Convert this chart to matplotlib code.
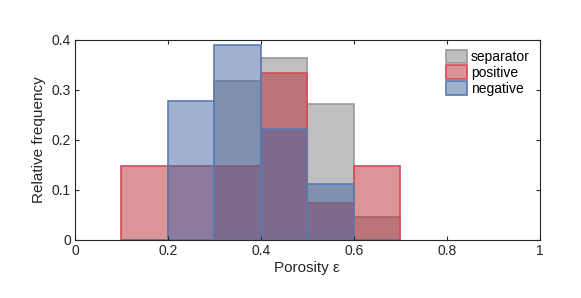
import numpy as np
import matplotlib.pyplot as plt

plt.rcParams['font.family'] = ['Liberation Sans', 'DejaVu Sans']

bin_edges = [0.1, 0.2, 0.3, 0.4, 0.5, 0.6]
separator = [0.0, 0.0, 7 / 22, 8 / 22, 6 / 22, 1 / 22]
positive = [4 / 27, 4 / 27, 4 / 27, 9 / 27, 2 / 27, 4 / 27]
negative = [0.0, 5 / 18, 7 / 18, 4 / 18, 2 / 18, 0.0]

series = [
    ("separator", separator, (0.5, 0.5, 0.5), (0.6, 0.6, 0.6)),
    ("positive", positive, (0.72, 0.17, 0.2), (0.82, 0.3, 0.34)),
    ("negative", negative, (0.26, 0.39, 0.63), (0.36, 0.48, 0.7)),
]

fig = plt.figure(figsize=(5.81, 2.98), dpi=100)
ax = fig.add_axes([0.129, 0.195, 0.8, 0.671])

for name, vals, face, edge in series:
    v = np.array(vals)
    ax.bar(bin_edges, v, width=0.1, align='edge', color=face, alpha=0.5,
           edgecolor='none', label=name)
    ax.bar(bin_edges, v, width=0.1, align='edge', facecolor='none',
           edgecolor=edge, linewidth=1.2)

ax.set_xlim(0, 1)
ax.set_ylim(0, 0.4)
ax.set_xticks([0, 0.2, 0.4, 0.6, 0.8, 1])
ax.set_xticklabels(['0', '0.2', '0.4', '0.6', '0.8', '1'])
ax.set_yticks([0, 0.1, 0.2, 0.3, 0.4])
ax.set_yticklabels(['0', '0.1', '0.2', '0.3', '0.4'])
ax.tick_params(direction='in', top=True, right=True, length=3,
               labelsize=10, colors='#262626', pad=3)
for s in ax.spines.values():
    s.set_color('#262626')
    s.set_linewidth(0.8)
ax.set_xlabel('Porosity ε', fontsize=11, color='#262626', labelpad=2)
ax.set_ylabel('Relative frequency', fontsize=11, color='#262626', labelpad=4)

handles = []
for name, vals, face, edge in series:
    handles.append(plt.Rectangle((0, 0), 1, 1, facecolor=face + (0.5,),
                                 edgecolor=edge, linewidth=1.2, label=name))
ax.legend(handles=handles, loc='upper right', frameon=False, fontsize=10,
          handlelength=1.5, handleheight=1.1, handletextpad=0.3,
          labelspacing=0.1, borderaxespad=0.3)

fig.savefig('out.png', dpi=100)
